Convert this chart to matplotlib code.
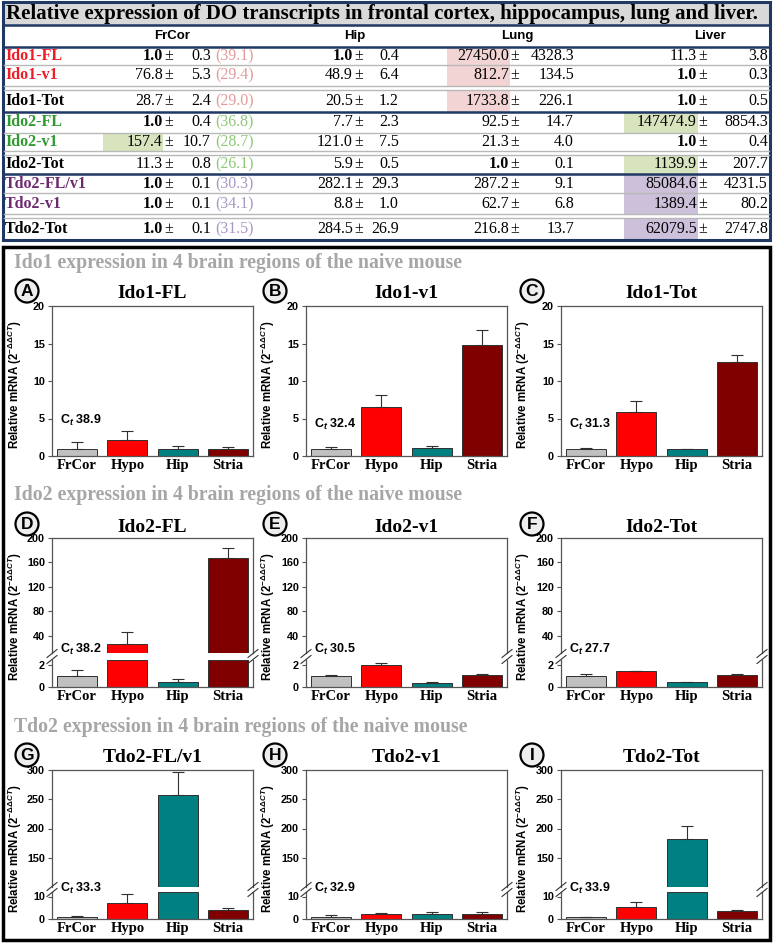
import numpy as np
import matplotlib
matplotlib.use('Agg')
import matplotlib.pyplot as plt
from matplotlib.patches import Rectangle, Circle

plt.rcParams['font.family'] = ['Liberation Sans', 'DejaVu Sans']
plt.rcParams['mathtext.fontset'] = 'custom'
plt.rcParams['mathtext.rm'] = 'Liberation Sans:bold'
plt.rcParams['mathtext.bf'] = 'Liberation Sans:bold'
plt.rcParams['mathtext.it'] = 'Liberation Sans:bold:italic'

# ---- table data (relative expression, SEM, Ct in FrCor) ----
genes = ['Ido1-FL', 'Ido1-v1', 'Ido1-Tot', 'Ido2-FL', 'Ido2-v1', 'Ido2-Tot',
         'Tdo2-FL/v1', 'Tdo2-v1', 'Tdo2-Tot']
tissues = ['FrCor', 'Hip', 'Lung', 'Liver']
frcor_mean = [1.0, 76.8, 28.7, 1.0, 157.4, 11.3, 1.0, 1.0, 1.0]
frcor_sem = [0.3, 5.3, 2.4, 0.4, 10.7, 0.8, 0.1, 0.1, 0.1]
frcor_ct = [39.1, 29.4, 29.0, 36.8, 28.7, 26.1, 30.3, 34.1, 31.5]
hip_mean = [1.0, 48.9, 20.5, 7.7, 121.0, 5.9, 282.1, 8.8, 284.5]
hip_sem = [0.4, 6.4, 1.2, 2.3, 7.5, 0.5, 29.3, 1.0, 26.9]
lung_mean = [27450.0, 812.7, 1733.8, 92.5, 21.3, 1.0, 287.2, 62.7, 216.8]
lung_sem = [4328.3, 134.5, 226.1, 14.7, 4.0, 0.1, 9.1, 6.8, 13.7]
liver_mean = [11.3, 1.0, 1.0, 147474.9, 1.0, 1139.9, 85084.6, 1389.4, 62079.5]
liver_sem = [3.8, 0.3, 0.5, 8854.3, 0.4, 207.7, 4231.5, 80.2, 2747.8]

# ---- bar chart data (brain regions) ----
regions = ['FrCor', 'Hypo', 'Hip', 'Stria']
ido1_fl = [1.0, 2.1, 0.9, 1.0];      ido1_fl_err = [0.85, 1.2, 0.45, 0.15]
ido1_v1 = [1.0, 6.6, 1.05, 14.8];    ido1_v1_err = [0.2, 1.5, 0.25, 2.0]
ido1_tot = [1.0, 5.9, 0.9, 12.5];    ido1_tot_err = [0.1, 1.4, 0.1, 1.0]
ido2_fl = [1.0, 27.0, 0.5, 168.0];   ido2_fl_err = [0.55, 19.0, 0.2, 16.0]
ido2_v1 = [1.0, 2.0, 0.4, 1.1];      ido2_v1_err = [0.1, 0.25, 0.08, 0.1]
ido2_tot = [1.0, 1.45, 0.45, 1.1];   ido2_tot_err = [0.2, 0.05, 0.05, 0.07]
tdo2_flv1 = [1.0, 7.3, 258.0, 3.8];  tdo2_flv1_err = [0.2, 3.8, 38.0, 1.2]
tdo2_v1 = [1.0, 2.2, 2.2, 2.1];      tdo2_v1_err = [0.8, 0.4, 1.0, 1.0]
tdo2_tot = [1.0, 5.3, 182.0, 3.5];   tdo2_tot_err = [0.1, 2.4, 22.0, 0.4]
ct_vals = [38.9, 32.4, 31.3, 38.2, 30.5, 27.7, 33.3, 32.9, 33.9]

bar_colors = ['#c0c0c0', '#ff0000', '#008080', '#800000']
W, H = 773, 943
SERIF = 'Liberation Serif'
SANS = 'Liberation Sans'

fig = plt.figure(figsize=(W / 100, H / 100), dpi=100)
ov = fig.add_axes([0, 0, 1, 1])
ov.set_xlim(0, W)
ov.set_ylim(H, 0)
ov.axis('off')
ov.set_zorder(10)

# ---------------- table ----------------
ov.add_patch(Rectangle((3, 2), 767, 23, fc='#d9d9d9', ec='none'))
ov.text(6, 13.5, 'Relative expression of DO transcripts in frontal cortex, hippocampus, lung and liver.',
        family=SERIF, weight='bold', fontsize=15, va='center', ha='left')
for name, xc in zip(tissues, [172, 355, 517, 710]):
    ov.text(xc, 36, name, family=SANS, weight='bold', fontsize=9.5, ha='center', va='center')

row_y = [56, 75, 101, 122, 142, 164, 184, 204, 229]
row_span = [(47, 65), (65, 87), (90, 112), (112, 133), (133, 151), (155, 174),
            (174, 193), (193, 214), (218, 240)]
label_colors = ['#ee1c25', '#ee1c25', 'black', '#2f9a2f', '#2f9a2f', 'black',
                '#6e2a70', '#6e2a70', 'black']
ct_colors = ['#e49a9a'] * 3 + ['#8fc878'] * 3 + ['#a898c4'] * 3
col_pos = [(163, 211), (353, 399), (509, 574), (697, 768)]
highlights = [(0, 2, '#f2d4d4'), (1, 2, '#f2d4d4'), (2, 2, '#f2d4d4'),
              (4, 0, '#d7e4bd'), (3, 3, '#d7e4bd'), (5, 3, '#d7e4bd'),
              (6, 3, '#ccc0da'), (7, 3, '#ccc0da'), (8, 3, '#ccc0da')]
hl_x = [(103, 163), None, (447, 510), (624, 698)]
for r, c, colr in highlights:
    x0, x1 = hl_x[c]
    y0, y1 = row_span[r]
    ov.add_patch(Rectangle((x0, y0), x1 - x0, y1 - y0, fc=colr, ec='none'))

means = [frcor_mean, hip_mean, lung_mean, liver_mean]
sems = [frcor_sem, hip_sem, lung_sem, liver_sem]
for i, g in enumerate(genes):
    y = row_y[i]
    ov.text(5, y, g, family=SERIF, weight='bold', fontsize=11.5, color=label_colors[i],
            ha='left', va='center')
    for c in range(4):
        v_r, e_r = col_pos[c]
        m = means[c][i]
        ov.text(v_r, y, f'{m:.1f}', family=SERIF, fontsize=11.5, ha='right', va='center',
                weight='bold' if m == 1.0 else 'normal')
        ov.text(v_r + 1.5, y, '±', family=SERIF, fontsize=11.5, ha='left', va='center')
        ov.text(e_r, y, f'{sems[c][i]:.1f}', family=SERIF, fontsize=11.5, ha='right', va='center')
    ov.text(215, y, f'({frcor_ct[i]:.1f})', family=SERIF, fontsize=11.5, color=ct_colors[i],
            ha='left', va='center')

for yl in [65, 86, 90, 133, 151, 155, 193, 214, 218]:
    ov.plot([4, 769], [yl, yl], color='#b8b8b8', lw=1.0)
for yl in [25, 47, 112, 174]:
    ov.plot([3, 770], [yl, yl], color='#1f3864', lw=1.8)
ov.add_patch(Rectangle((3, 2), 767, 238, fc='none', ec='#1f3864', lw=2.2))

# ---------------- bar panels ----------------
ov.add_patch(Rectangle((3, 247), 767, 693, fc='none', ec='black', lw=2.5))
sections = ['Ido1 expression in 4 brain regions of the naive mouse',
            'Ido2 expression in 4 brain regions of the naive mouse',
            'Tdo2 expression in 4 brain regions of the naive mouse']
section_y = [263, 495, 727]
for s, y in zip(sections, section_y):
    ov.text(14, y, s, family=SERIF, weight='bold', fontsize=14.2, color='#a6a6a6',
            ha='left', va='center')

panels = [
    ('A', 'Ido1-FL', ido1_fl, ido1_fl_err), ('B', 'Ido1-v1', ido1_v1, ido1_v1_err),
    ('C', 'Ido1-Tot', ido1_tot, ido1_tot_err), ('D', 'Ido2-FL', ido2_fl, ido2_fl_err),
    ('E', 'Ido2-v1', ido2_v1, ido2_v1_err), ('F', 'Ido2-Tot', ido2_tot, ido2_tot_err),
    ('G', 'Tdo2-FL/v1', tdo2_flv1, tdo2_flv1_err), ('H', 'Tdo2-v1', tdo2_v1, tdo2_v1_err),
    ('I', 'Tdo2-Tot', tdo2_tot, tdo2_tot_err),
]
col_x = [(52, 253), (306, 507), (561, 762)]
circ_x = [27, 275, 532]
circ_y = [291, 524, 755]
title_y = [293, 527, 758]
ylab_x = [15, 268, 523]
rows = [
    dict(box=(306, None, None, 456), lower=(0, 20), lticks=[0, 5, 10, 15, 20], ct_y=[3.7, 3.2, 3.2]),
    dict(box=(538, 653, 660, 687), upper=(12, 200), uticks=[40, 80, 120, 160, 200],
         lower=(0, 2.5), lticks=[0, 2], ct_y=[2.8, 2.8, 2.8]),
    dict(box=(770, 887, 892, 919), upper=(100, 300), uticks=[150, 200, 250, 300],
         lower=(0, 12), lticks=[0, 10], ct_y=[10.0, 10.0, 10.0]),
]
spine_c = '#555555'
x = np.arange(len(regions))


def add_ax(l, t, r, b):
    return fig.add_axes([l / W, 1 - b / H, (r - l) / W, (b - t) / H])


def style(ax, ticks, lim):
    ax.set_ylim(*lim)
    ax.set_xlim(-0.5, 3.5)
    ax.set_yticks(ticks)
    ax.set_yticklabels([str(t) for t in ticks], fontsize=7.8, weight='bold', family=SANS)
    ax.tick_params(axis='y', length=3, width=0.8, color=spine_c, pad=2)
    ax.tick_params(axis='x', length=0)
    for sp in ax.spines.values():
        sp.set_color(spine_c)
        sp.set_linewidth(0.9)


def draw_bars(ax, vals, errs, lo, hi):
    bottoms = [lo if v > lo else 0 for v in vals]
    heights = [min(v, hi) - b0 if v > lo else 0 for v, b0 in zip(vals, bottoms)]
    ax.bar(x, heights, bottom=bottoms, width=0.8, color=bar_colors, edgecolor='#303030', lw=0.7)
    ax.errorbar(x, vals, yerr=[np.zeros(len(vals)), errs], fmt='none', ecolor='#303030',
                elinewidth=0.8, capsize=4, capthick=0.8)


def brk(xp, yp):
    for dy in (-3, 3):
        ov.plot([xp - 5, xp + 5], [yp + dy + 4, yp + dy - 4], color='#333333', lw=0.8)


for k, (letter, title, vals, errs) in enumerate(panels):
    ri, ci = divmod(k, 3)
    row = rows[ri]
    l, r = col_x[ci]
    top, ub, lt, bot = row['box']
    if ub is None:
        ax = add_ax(l, top, r, bot)
        style(ax, row['lticks'], row['lower'])
        draw_bars(ax, vals, errs, *row['lower'])
        low = ax
    else:
        up = add_ax(l, top, r, ub)
        style(up, row['uticks'], row['upper'])
        up.spines['bottom'].set_visible(False)
        up.set_xticks([])
        draw_bars(up, vals, errs, *row['upper'])
        low = add_ax(l, lt, r, bot)
        style(low, row['lticks'], row['lower'])
        low.spines['top'].set_visible(False)
        draw_bars(low, vals, errs, *row['lower'])
        brk(l, (ub + lt) / 2)
        brk(r, (ub + lt) / 2)
    low.set_xticks(x)
    low.set_xticklabels(regions, family=SERIF, weight='bold', fontsize=10.5)
    low.tick_params(axis='x', pad=2)
    low.text(-0.35, row['ct_y'][ci], r'C$_t$ ' + f'{ct_vals[k]:.1f}', family=SANS,
             weight='bold', fontsize=9, ha='left', va='bottom', clip_on=False)

    ov.text((l + r) / 2, title_y[ri], title, family=SERIF, weight='bold', fontsize=14,
            ha='center', va='center')
    ov.add_patch(Circle((circ_x[ci], circ_y[ri]), 11.5, fc='#eeeeee', ec='black', lw=1.6))
    ov.text(circ_x[ci], circ_y[ri] + 0.5, letter, family=SANS, weight='bold', fontsize=12.5,
            ha='center', va='center')
    ov.text(ylab_x[ci], (top + bot) / 2 + 4, r'Relative mRNA (2$^{-\Delta\Delta CT}$)',
            family=SANS, weight='bold', fontsize=8.3, rotation=90, ha='center', va='center')

fig.savefig('out.png', dpi=100)
